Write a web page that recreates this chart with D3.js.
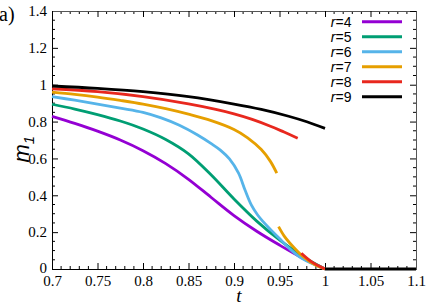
<!DOCTYPE html>
<html lang="en">
<head>
<meta charset="utf-8">
<style>
  body { margin: 0; background: #fff; }
  .tick text { font: 15px "Liberation Serif", serif; fill: #000; }
  .curve { fill: none; stroke-width: 2.8px; }
</style>
</head>
<body>
<script src="https://d3js.org/d3.v7.min.js"></script>
<script>
// series data: [t, m1]
var r4 = [[0.70,0.828],[0.725,0.79],[0.75,0.748],[0.775,0.70],[0.80,0.642],[0.825,0.572],[0.85,0.487],
          [0.875,0.388],[0.90,0.29],[0.925,0.205],[0.95,0.13],[0.975,0.06],[1.0,0.0]];
var r5 = [[0.70,0.894],[0.725,0.868],[0.75,0.838],[0.775,0.803],[0.80,0.76],[0.825,0.703],[0.85,0.625],
          [0.875,0.51],[0.90,0.38],[0.925,0.26],[0.95,0.158],[0.975,0.07],[1.0,0.0]];
var r6 = [[0.70,0.935],[0.725,0.916],[0.75,0.895],[0.775,0.873],[0.80,0.85],[0.82,0.82],[0.84,0.78],
          [0.86,0.727],[0.875,0.68],[0.885,0.645],[0.895,0.597],[0.905,0.52],[0.912,0.43],[0.919,0.348],
          [0.926,0.293],[0.932,0.257],[0.94,0.215],[0.95,0.165],[0.96,0.115],[0.975,0.056],[1.0,0.0]];
var r7 = [[0.70,0.96],[0.725,0.948],[0.75,0.933],[0.775,0.915],[0.80,0.895],[0.825,0.87],[0.85,0.84],
          [0.875,0.805],[0.90,0.757],[0.915,0.712],[0.93,0.648],[0.94,0.584],[0.947,0.52]];
var r7low = [[0.949,0.23],[0.955,0.18],[0.9615,0.14],[0.976,0.067],[0.99,0.02],[1.0,0.0]];
var r8 = [[0.70,0.978],[0.75,0.962],[0.80,0.935],[0.85,0.896],[0.88,0.866],[0.90,0.842],[0.92,0.812],
          [0.94,0.775],[0.955,0.743],[0.97,0.71]];
var r8low = [[0.974,0.085],[0.985,0.04],[1.0,0.0]];
var r9 = [[0.70,0.993],[0.75,0.98],[0.80,0.962],[0.85,0.935],[0.90,0.895],[0.93,0.866],[0.96,0.829],
          [0.98,0.799],[1.0,0.763]];
var r9zero = [[1.0,0.0],[1.1,0.0]];

var labels = ["4","5","6","7","8","9"];
var colors = ["#9400d3","#009e73","#56b4e9","#e69f00","#e8281e","#000000"];
var seriesList = [[r4],[r5],[r6],[r7,r7low],[r8,r8low],[r9,r9zero]];

var xTicks = [0.7,0.75,0.8,0.85,0.9,0.95,1,1.05,1.1];
var yTicks = [0,0.2,0.4,0.6,0.8,1,1.2,1.4];

var W = 436, H = 305,
    margin = {top:11, left:52, right:20, bottom:36};

var svg = d3.select("body").append("svg")
    .attr("width", W).attr("height", H);

var x = d3.scaleLinear().domain([0.7,1.1]).range([margin.left, W - margin.right]);
var y = d3.scaleLinear().domain([0,1.4]).range([H - margin.bottom, margin.top]);

var fmt = function(d){ return d3.format("")(+d.toFixed(2)); };

// minor ticks
var xMinor = d3.range(0.70, 1.1001, 0.01).filter(function(v){ return Math.abs(v*20 - Math.round(v*20)) > 1e-6; });
var yMinor = d3.range(0, 1.4001, 0.05).filter(function(v){ return Math.abs(v*5 - Math.round(v*5)) > 1e-6; });

var g = svg.append("g");

xMinor.forEach(function(v){
  g.append("line").attr("x1",x(v)).attr("x2",x(v)).attr("y1",y(0)).attr("y2",y(0)-3).attr("stroke","#000");
  g.append("line").attr("x1",x(v)).attr("x2",x(v)).attr("y1",y(1.4)).attr("y2",y(1.4)+3).attr("stroke","#000");
});
yMinor.forEach(function(v){
  g.append("line").attr("x1",x(0.7)).attr("x2",x(0.7)+3).attr("y1",y(v)).attr("y2",y(v)).attr("stroke","#000");
  g.append("line").attr("x1",x(1.1)).attr("x2",x(1.1)-3).attr("y1",y(v)).attr("y2",y(v)).attr("stroke","#000");
});

// axes, ticks inward
var xAxis = g.append("g").attr("transform","translate(0," + y(0) + ")")
    .call(d3.axisBottom(x).tickValues(xTicks).tickSize(-6).tickPadding(9).tickFormat(fmt));
var yAxis = g.append("g").attr("transform","translate(" + x(0.7) + ",0)")
    .call(d3.axisLeft(y).tickValues(yTicks).tickSize(-6).tickPadding(5).tickFormat(fmt));
var xTop = g.append("g").attr("transform","translate(0," + y(1.4) + ")")
    .call(d3.axisTop(x).tickValues(xTicks).tickSize(-6).tickFormat(""));
var yRight = g.append("g").attr("transform","translate(" + x(1.1) + ",0)")
    .call(d3.axisRight(y).tickValues(yTicks).tickSize(-6).tickFormat(""));
[xAxis,yAxis].forEach(function(a){ a.select(".domain").attr("stroke","#000"); });
xTop.select(".domain").attr("stroke","#555");
yRight.select(".domain").attr("stroke","#555");
xAxis.selectAll(".tick text").attr("dy","0.5em");
yAxis.selectAll(".tick text").filter(function(d){ return d === 0; }).attr("dy","0.22em");

// curves
var line = d3.line().x(function(d){ return x(d[0]); }).y(function(d){ return y(d[1]); })
    .curve(d3.curveCatmullRom.alpha(0.5));

seriesList.forEach(function(parts, i){
  parts.forEach(function(p){
    svg.append("path").attr("class","curve").attr("d", line(p)).attr("stroke", colors[i]);
  });
});

// legend
var leg = svg.append("g");
labels.forEach(function(l, i){
  var yy = 21.7 + i*15;
  var t = leg.append("text").attr("x",351.5).attr("y",yy).attr("dy","0.35em")
      .attr("text-anchor","end").style("font","14px 'Liberation Sans', sans-serif");
  t.append("tspan").style("font-style","italic").text("r");
  t.append("tspan").text("=" + l);
  leg.append("line").attr("x1",362).attr("x2",402).attr("y1",yy).attr("y2",yy)
      .attr("stroke",colors[i]).attr("stroke-width",3);
});

// labels
svg.append("text").attr("x",-1).attr("y",21).style("font","20px 'Liberation Serif', serif").text("a)");
svg.append("text").attr("x",x(0.9)+5).attr("y",302).attr("text-anchor","middle")
    .style("font","italic 19px 'Liberation Serif', serif").text("t");
var ml = svg.append("text").attr("transform","translate(29," + y(0.65) + ") rotate(-90)")
    .attr("text-anchor","middle").style("font","italic 22px 'Liberation Sans', sans-serif");
ml.append("tspan").text("m");
ml.append("tspan").attr("dy","5").style("font-size","15px").text("1");
</script>
</body>
</html>
